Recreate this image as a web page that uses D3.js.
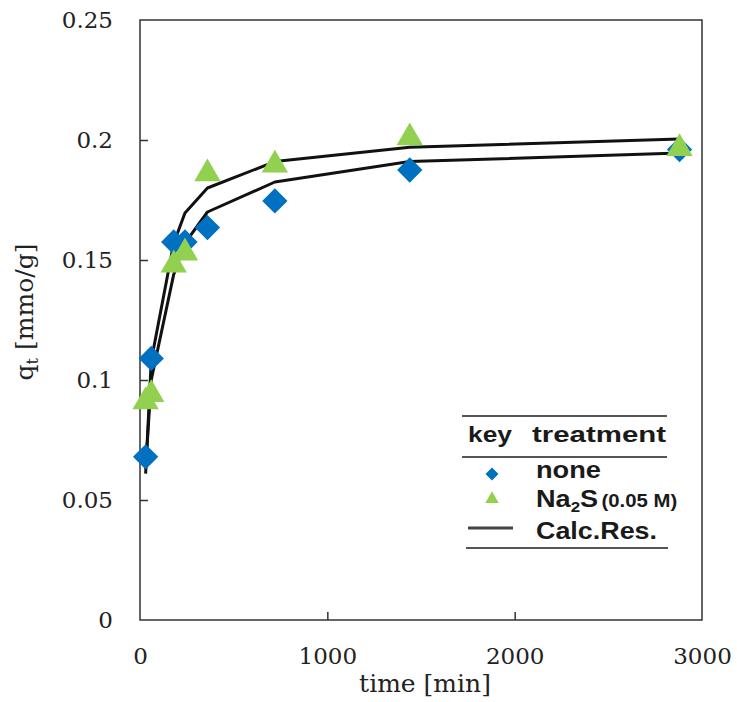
<!DOCTYPE html>
<html>
<head>
<meta charset="utf-8">
<script src="https://cdn.jsdelivr.net/npm/d3@7"></script>
<style>
  body { margin: 0; background: #fff; }
  .tick text { font-family: "DejaVu Serif", serif; font-size: 23px; fill: #222; }
  .tick line { stroke: #333; stroke-width: 1.5; }
  .legend text { font-family: "Liberation Sans", Arial, sans-serif; font-weight: bold; fill: #1a1a1a; }
</style>
</head>
<body>
<div id="chart"></div>
<script>
// sampling times [min]
const times = [30, 60, 180, 240, 360, 720, 1440, 2880];
// measured q_t [mmo/g]
const qNone = [0.068, 0.109, 0.1575, 0.1575, 0.1635, 0.1746, 0.1875, 0.196];
const qNa2S = [0.091, 0.094, 0.148, 0.153, 0.186, 0.1896, 0.201, 0.1965];
// calculated results
const calcNone = [0.063, 0.100, 0.144, 0.157, 0.170, 0.1825, 0.191, 0.1946];
const calcNa2S = [0.061, 0.108, 0.157, 0.1696, 0.180, 0.191, 0.197, 0.2004];

const xTicks = [0, 1000, 2000, 3000];
const yTicks = [0, 0.05, 0.1, 0.15, 0.2, 0.25];

const margin = { top: 20, right: 35, bottom: 82, left: 140 };
const W = 737, H = 702;
const width = W - margin.left - margin.right,
      height = H - margin.top - margin.bottom;

const svg = d3.select("#chart")
  .append("svg")
  .attr("width", W)
  .attr("height", H)
  .append("g")
  .attr("transform", "translate(" + margin.left + "," + margin.top + ")");

const x = d3.scaleLinear().domain([0, 3000]).range([0, width]);
const y = d3.scaleLinear().domain([0, 0.25]).range([height, 0]);

// axes, ticks pointing inward
const yAxis = d3.axisLeft(y)
  .tickValues(yTicks)
  .tickFormat(d => d3.format("")(+d.toFixed(2)))
  .tickSize(-8)
  .tickPadding(27);
svg.append("g").attr("class", "axis y-axis").call(yAxis)
  .call(g => g.select(".domain").remove())
  .call(g => g.selectAll(".tick line").filter(d => d === 0 || d === 0.25).remove());

const xAxis = d3.axisBottom(x)
  .tickValues(xTicks)
  .tickFormat(d3.format("d"))
  .tickSize(-8)
  .tickPadding(28);
svg.append("g").attr("class", "axis x-axis")
  .attr("transform", "translate(0," + height + ")")
  .call(xAxis)
  .call(g => g.select(".domain").remove())
  .call(g => g.selectAll(".tick line").filter(d => d === 0 || d === 3000).remove());

// frame
svg.append("rect")
  .attr("x", 0).attr("y", 0)
  .attr("width", width).attr("height", height)
  .attr("fill", "none")
  .attr("stroke", "#333")
  .attr("stroke-width", 1.5);

// axis titles
svg.append("text")
  .attr("x", width / 2 + 4)
  .attr("y", height + 72)
  .attr("text-anchor", "middle")
  .style("font-family", "DejaVu Serif, serif")
  .style("font-size", "25px")
  .style("fill", "#222")
  .text("time [min]");

const yl = svg.append("text")
  .attr("transform", "translate(" + (-107) + "," + (height / 2 - 8) + ") rotate(-90)")
  .attr("text-anchor", "middle")
  .style("font-family", "DejaVu Serif, serif")
  .style("font-size", "25px")
  .style("fill", "#222");
yl.append("tspan").text("q");
yl.append("tspan").attr("dy", 5).style("font-size", "16px").text("t");
yl.append("tspan").attr("dy", -5).text(" [mmo/g]");

// calculated curves
const line = d3.line().x(d => x(d[0])).y(d => y(d[1]));
[calcNone, calcNa2S].forEach(vals => {
  svg.append("path")
    .datum(times.map((t, i) => [t, vals[i]]))
    .attr("d", line)
    .attr("fill", "none")
    .attr("stroke", "#111")
    .attr("stroke-width", 3)
    .attr("stroke-linejoin", "round");
});

// data points
const diamond = d3.symbol().type(d3.symbolSquare).size(320);
svg.selectAll(".pt-none")
  .data(times.map((t, i) => [t, qNone[i]]))
  .enter()
  .append("path")
  .attr("class", "pt-none")
  .attr("d", diamond)
  .attr("transform", d => "translate(" + x(d[0]) + "," + y(d[1]) + ") rotate(45)")
  .attr("fill", "#0070C0");

const tri = d3.symbol().type(d3.symbolTriangle).size(300);
svg.selectAll(".pt-na2s")
  .data(times.map((t, i) => [t, qNa2S[i]]))
  .enter()
  .append("path")
  .attr("class", "pt-na2s")
  .attr("d", tri)
  .attr("transform", d => "translate(" + x(d[0]) + "," + y(d[1]) + ")")
  .attr("fill", "#92D050");

// legend table
const lg = d3.select("svg").append("g").attr("class", "legend");
[[462, 667, 416], [462, 667, 457], [466, 668, 548]].forEach(r => {
  lg.append("line")
    .attr("x1", r[0]).attr("x2", r[1])
    .attr("y1", r[2]).attr("y2", r[2])
    .attr("stroke", "#555").attr("stroke-width", 2);
});

function legendText(px, py, size, len) {
  return lg.append("text")
    .attr("x", px).attr("y", py)
    .attr("textLength", len)
    .attr("lengthAdjust", "spacingAndGlyphs")
    .style("font-size", size + "px");
}
legendText(468, 442, 22, 44).text("key");
legendText(532, 442, 22, 134).text("treatment");
legendText(536, 478, 24, 65).text("none");
legendText(536, 539, 24, 121).text("Calc.Res.");

const na = lg.append("text")
  .attr("transform", "translate(536,507) scale(1.13,1)")
  .style("font-size", "24px");
na.append("tspan").text("Na");
na.append("tspan").attr("dy", 5).style("font-size", "15px").text("2");
na.append("tspan").attr("dy", -5).text("S");
na.append("tspan").attr("dx", 3).style("font-size", "18px").text("(0.05 M)");

lg.append("path")
  .attr("d", d3.symbol().type(d3.symbolSquare).size(85))
  .attr("transform", "translate(492,474) rotate(45)")
  .attr("fill", "#0070C0");
lg.append("path")
  .attr("d", d3.symbol().type(d3.symbolTriangle).size(80))
  .attr("transform", "translate(492,499)")
  .attr("fill", "#92D050");
lg.append("line")
  .attr("x1", 468).attr("x2", 513)
  .attr("y1", 528).attr("y2", 528)
  .attr("stroke", "#444").attr("stroke-width", 3);
</script>
</body>
</html>
